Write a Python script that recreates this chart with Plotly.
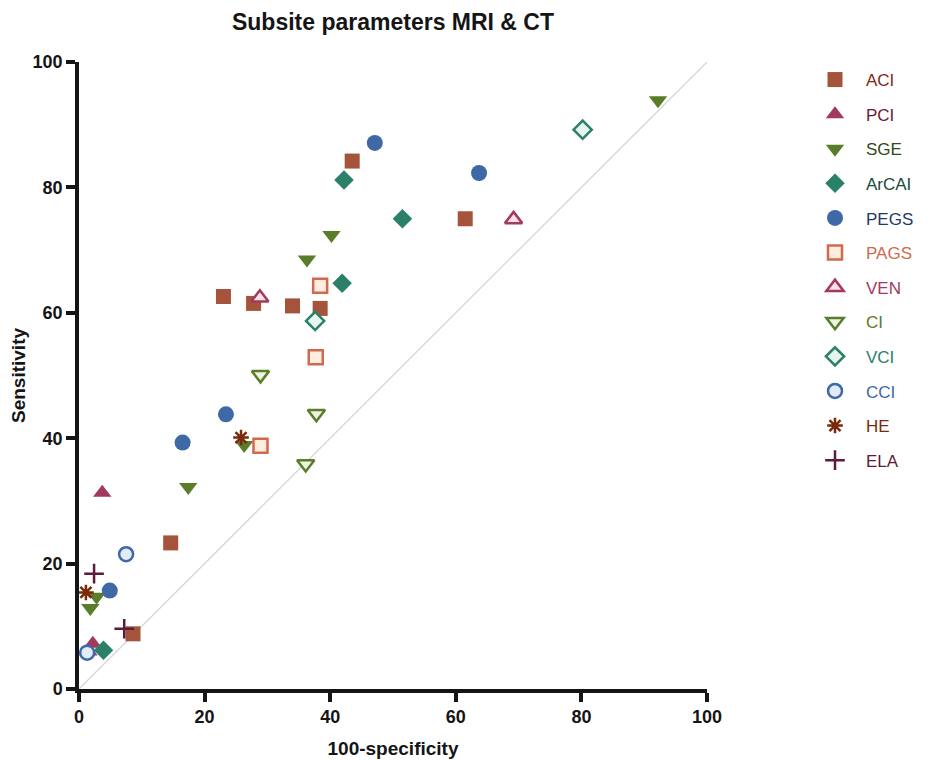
import plotly.graph_objects as go

# ---- data (100-specificity, sensitivity) ----
series_names = ["ACI", "PCI", "SGE", "ArCAI", "PEGS", "PAGS", "VEN", "CI", "VCI", "CCI", "HE", "ELA"]

aci_x = [43.5, 61.5, 23.0, 27.8, 34.0, 38.4, 14.6, 8.6]
aci_y = [84.2, 75.0, 62.6, 61.5, 61.1, 60.7, 23.3, 8.8]

pci_x = [3.7, 2.2, 1.5]
pci_y = [31.3, 7.2, 6.0]

sge_x = [92.2, 40.2, 36.3, 17.4, 26.3, 2.8, 1.8]
sge_y = [93.9, 72.4, 68.5, 32.2, 38.9, 14.7, 12.9]

arcai_x = [42.2, 51.5, 41.9, 3.9]
arcai_y = [81.2, 75.0, 64.7, 6.2]

pegs_x = [47.1, 63.7, 23.4, 16.5, 4.9]
pegs_y = [87.1, 82.3, 43.8, 39.3, 15.7]

pags_x = [38.4, 37.7, 28.9]
pags_y = [64.3, 52.9, 38.8]

ven_x = [69.2, 28.8]
ven_y = [74.9, 62.4]

ci_x = [28.9, 37.8, 36.1]
ci_y = [50.1, 43.9, 35.9]

vci_x = [80.2, 37.6]
vci_y = [89.2, 58.7]

cci_x = [7.5, 1.3]
cci_y = [21.5, 5.8]

he_x = [1.1, 25.8]
he_y = [15.4, 40.1]

ela_x = [2.4, 7.2]
ela_y = [18.4, 9.6]

ref_line_x = [0, 100]
ref_line_y = [0, 100]

x_ticks = [0, 20, 40, 60, 80, 100]
y_ticks = [0, 20, 40, 60, 80, 100]

# ---- styles ----
styles = [
    # name, x, y, symbol, fill, line color, line width, size, text color
    ("ACI", aci_x, aci_y, "square", "#A5533A", "#A5533A", 0, 15, "#7E2A12"),
    ("PCI", pci_x, pci_y, "triangle-up", "#A23A5E", "#A23A5E", 0, 16, "#661A38"),
    ("SGE", sge_x, sge_y, "triangle-down", "#5A7D2A", "#5A7D2A", 0, 16, "#2F4A18"),
    ("ArCAI", arcai_x, arcai_y, "diamond", "#2A8068", "#2A8068", 0, 15, "#184A3A"),
    ("PEGS", pegs_x, pegs_y, "circle", "#3E69A6", "#3E69A6", 0, 16, "#1F3A62"),
    ("PAGS", pags_x, pags_y, "square", "#FFEEE0", "#CF6A4C", 2.5, 14, "#CF6A4C"),
    ("VEN", ven_x, ven_y, "triangle-up", "#FBE0EA", "#A23A5E", 2.5, 15, "#A23A5E"),
    ("CI", ci_x, ci_y, "triangle-down", "#EEF4E2", "#5A7D2A", 2.5, 15, "#5A7D2A"),
    ("VCI", vci_x, vci_y, "diamond", "#E6F5F0", "#2A8068", 2.5, 14, "#2A8068"),
    ("CCI", cci_x, cci_y, "circle", "#E2EBF7", "#3E69A6", 2.5, 14, "#3E69A6"),
    ("HE", he_x, he_y, "asterisk-open", "#7A2A0A", "#7A2A0A", 2.5, 13, "#7A2A0A"),
    ("ELA", ela_x, ela_y, "cross-thin-open", "#5E1A3A", "#5E1A3A", 2.5, 14, "#5E1A3A"),
]

FONT = "Liberation Sans, Arial, sans-serif"

fig = go.Figure()

fig.add_trace(go.Scatter(
    x=ref_line_x, y=ref_line_y, mode="lines",
    line=dict(color="#D6D6D6", width=1.3),
    showlegend=False, hoverinfo="skip",
))

for name, xs, ys, sym, fill, lc, lw, sz, tc in styles:
    fig.add_trace(go.Scatter(
        x=xs, y=ys, mode="markers",
        name=f"<span style='color:{tc}'>{name}</span>",
        legendgroup=name,
        cliponaxis=False,
        marker=dict(symbol=sym, size=sz, color=fill,
                    line=dict(color=lc, width=lw)),
    ))

axis_common = dict(
    range=[0, 100], showgrid=False, zeroline=False, automargin=False,
    showline=True, linecolor="#151515", linewidth=3.5,
    ticks="outside", ticklen=9, tickwidth=3.5, tickcolor="#151515",
    tickfont=dict(family=FONT, size=18, color="#151515", weight="bold"),
)

L, T = 71, 54
PW, PH = 628, 627

fig.update_layout(
    width=936, height=760,
    margin=dict(l=L, r=936 - L - PW, t=T, b=760 - T - PH),
    paper_bgcolor="white", plot_bgcolor="white",
    title=dict(text="<b>Subsite parameters MRI & CT</b>",
               x=(L + PW / 2) / 936, xanchor="center", y=1 - 14 / 760, yanchor="middle",
               font=dict(family=FONT, size=23, color="#151515")),
    xaxis=dict(**axis_common, tickvals=x_ticks,
               title=dict(text="<b>100-specificity</b>", standoff=16,
                          font=dict(family=FONT, size=19, color="#151515"))),
    yaxis=dict(**axis_common, tickvals=y_ticks,
               title=dict(text="<b>Sensitivity</b>", standoff=8,
                          font=dict(family=FONT, size=19, color="#151515"))),
    legend=dict(x=(796 - L) / PW, xanchor="left", y=1.0, yanchor="top",
                font=dict(family=FONT, size=17), maxheight=700,
                tracegroupgap=9.5, itemwidth=52, bgcolor="rgba(0,0,0,0)"),
)

fig.write_html("out.html")
